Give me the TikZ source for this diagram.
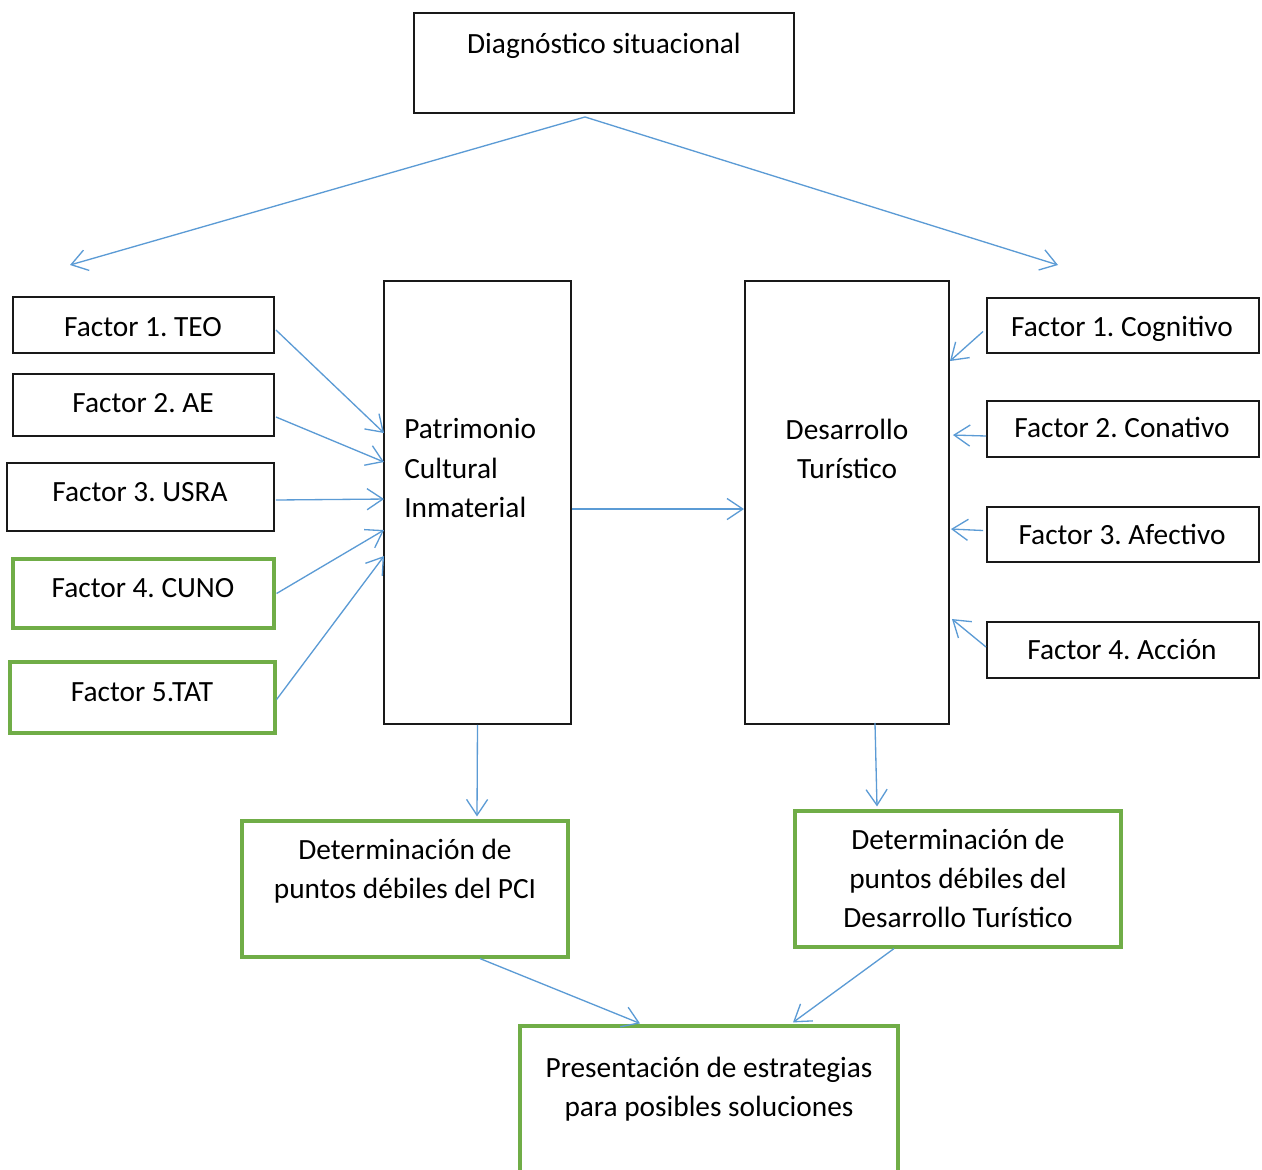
\documentclass[tikz,border=0pt]{standalone}
\usepackage{fontspec}
\setmainfont{Carlito}
\usetikzlibrary{arrows.meta,calc,fit}
\definecolor{lblue}{HTML}{5B9BD5}
\definecolor{lgreen}{HTML}{70AD47}
\frenchspacing
\begin{document}
\begin{tikzpicture}[x=0.02cm,y=-0.02cm,
  bbox/.style={draw=black!90, line width=1.1pt, inner sep=0pt, fill=none},
  gbox/.style={draw=lgreen, line width=1.8pt, inner sep=0pt, fill=none},
  txt/.style={font=\fontsize{16.7}{22.2}\selectfont\frenchspacing, inner sep=0pt, anchor=base, align=center},
  conn/.style={draw=lblue, line width=0.75pt, -{Straight Barb[length=9pt,width=12pt]}}]
\useasboundingbox (0,0) rectangle (1262,1170);
\clip (0,0) rectangle (1262,1170);
\fill[white] (0,0) rectangle (1262,1170);
% boxes
\node[bbox, fit={(414,13) (794,113)}] (diag) {};
\node[bbox, fit={(13,297) (274,353)}] (f1) {};
\node[bbox, fit={(13,374) (274,436)}] (f2) {};
\node[bbox, fit={(7,463) (274,531)}] (f3) {};
\node[gbox, fit={(13,559) (274,628)}] (f4) {};
\node[gbox, fit={(10,662) (275,733)}] (f5) {};
\node[bbox, fit={(384,281) (571,724)}] (pci) {};
\node[bbox, fit={(745,281) (949,724)}] (dt) {};
\node[bbox, fit={(987,298) (1259,353)}] (r1) {};
\node[bbox, fit={(987,401) (1259,457)}] (r2) {};
\node[bbox, fit={(987,507) (1259,562)}] (r3) {};
\node[bbox, fit={(987,622) (1259,678)}] (r4) {};
\node[gbox, fit={(242,821) (568,957)}] (dpci) {};
\node[gbox, fit={(795,811) (1121,947)}] (ddt) {};
\node[gbox, fit={(520,1026) (898,1185)}] (pres) {};
% texts (anchor=base is the last line's baseline)
\node[txt] (tdiag) at (604,53) {Diagnóstico situacional};
\node[txt] (tf1) at (143,336) {Factor 1. TEO};
\node[txt] (tf2) at (143,412) {Factor 2. AE};
\node[txt] (tf3) at (140,501) {Factor 3. USRA};
\node[txt] (tf4) at (143,597) {Factor 4. CUNO};
\node[txt] (tf5) at (142,701) {Factor 5.TAT};
\node[txt, anchor=base west, align=left] (tpci) at (404,517) {Patrimonio\\Cultural\\Inmaterial};
\node[txt] (tdt) at (847,478) {Desarrollo\\Turístico};
\node[txt] (tr1) at (1122,336) {Factor 1. Cognitivo};
\node[txt] (tr2) at (1122,437) {Factor 2. Conativo};
\node[txt] (tr3) at (1122,544) {Factor 3. Afectivo};
\node[txt] (tr4) at (1122,659) {Factor 4. Acción};
\node[txt] (tdpci) at (405,898) {Determinación de\\puntos débiles del PCI};
\node[txt] (tddt) at (958,927) {Determinación de\\puntos débiles del\\Desarrollo Turístico};
\node[txt] (tpres) at (709,1116) {Presentación de estrategias\\para posibles soluciones};
% connectors
\coordinate (topL) at (70,265);
\coordinate (topR) at (1058,265);
\draw[conn] ($(diag.south)+(-19,3)$) -- (topL);
\draw[conn] ($(diag.south)+(-19,3)$) -- (topR);
\draw[conn] ($(f1.east)+(1,5)$) -- ($(pci.north west)+(1,153)$);
\draw[conn] ($(f2.east)+(1,12)$) -- ($(pci.north west)+(1,182)$);
\draw[conn] ($(f3.east)+(1,3)$) -- ($(pci.north west)+(1,219)$);
\draw[conn] ($(f4.east)+(1,0)$) -- ($(pci.north west)+(1,250)$);
\draw[conn] ($(f5.east)+(0,2)$) -- ($(pci.north west)+(1,276)$);
\draw[conn] ($(pci.north east)+(0,229)$) -- ($(dt.north west)+(0,229)$);
\draw[conn] ($(r1.west)+(-3,6)$) -- ($(dt.north east)+(0,81)$);
\draw[conn] ($(r2.west)+(0,7)$) -- ($(dt.north east)+(3,155)$);
\draw[conn] ($(r3.west)+(-3,-4)$) -- ($(dt.north east)+(1,249)$);
\draw[conn] ($(r4.west)+(0,-3)$) -- ($(dt.north east)+(2,339)$);
\draw[conn] (pci.south) -- ($(dpci.north)+(72,-3)$);
\draw[conn] ($(dt.south)+(28,-2)$) -- ($(ddt.north)+(-81,-3)$);
\draw[conn] ($(dpci.south)+(75,0)$) -- ($(pres.north)+(-69,-1)$);
\draw[conn] ($(ddt.south)+(-64,0)$) -- ($(pres.north)+(84,-2)$);
\end{tikzpicture}
\end{document}
